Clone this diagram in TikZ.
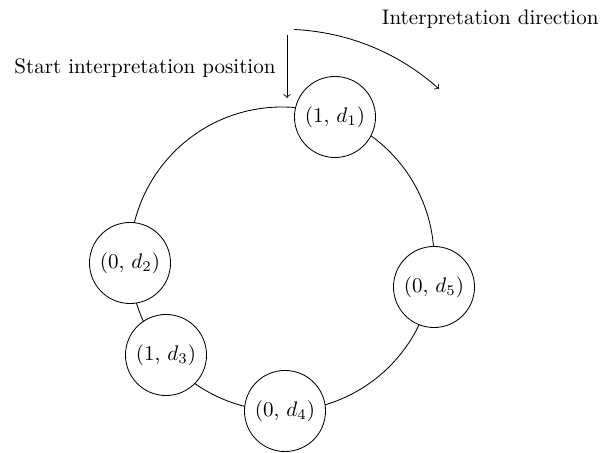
\documentclass[tikz,border=0pt]{standalone}
\begin{document}
\begin{tikzpicture}[x=0.475pt,y=-0.475pt,
  st/.style={circle,draw,fill=white,minimum size=38.5pt,inner sep=0pt},
  lbl/.style={inner sep=0pt}]
\useasboundingbox (0,0) rectangle (603,453);
\coordinate (c) at (282,259);
\draw (c) circle[radius=152];
\node[st] (n1) at (335,117) {(1, $d_1$)};
\node[st] (n2) at (130,263) {(0, $d_2$)};
\node[st] (n3) at (166,355) {(1, $d_3$)};
\node[st] (n4) at (285,411) {(0, $d_4$)};
\node[st] (n5) at (434,287) {(0, $d_5$)};
\node[lbl,anchor=east] (start) at (276,68) {Start interpretation position};
\node[lbl,anchor=east] (dir) at (599,19) {Interpretation direction};
\coordinate (s1) at (287,35);
\coordinate (s2) at (287,98);
\draw[->] (s1) -- (s2);
\coordinate (a1) at (294,29.5);
\coordinate (a2) at (439,89);
\draw[->] (a1) .. controls (348,32) and (399,53) .. (a2);
\end{tikzpicture}
\end{document}
